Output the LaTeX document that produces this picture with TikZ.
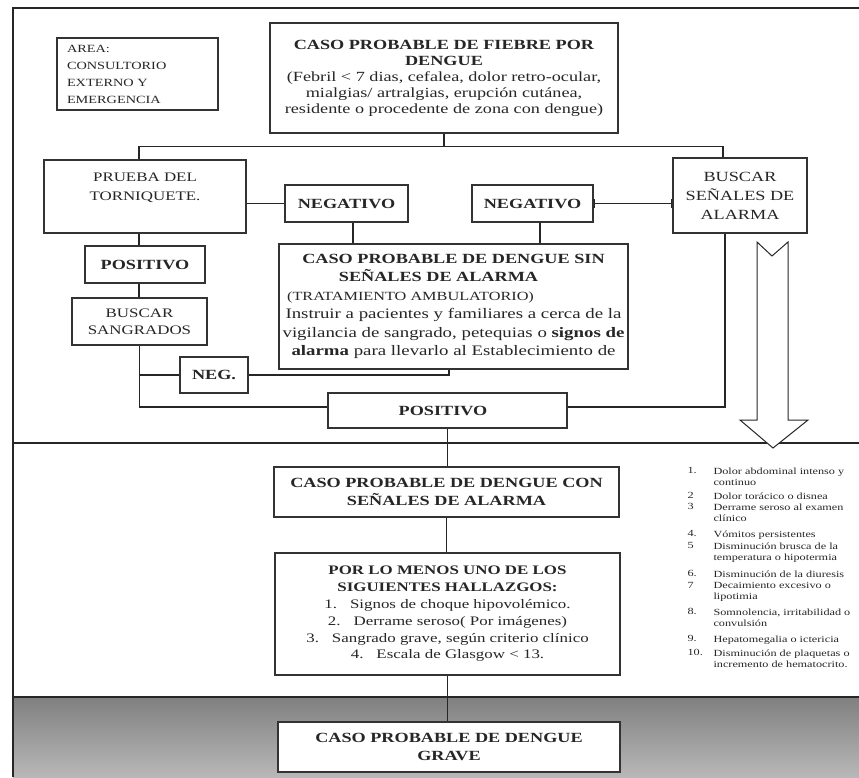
\documentclass[tikz,border=0pt]{standalone}
\usepackage{fontspec}
\setmainfont{Liberation Serif}[FakeStretch=1.3]
\tikzset{
  caja/.style={draw=black!80,fill=white,align=center,inner sep=2pt,font=\fontsize{14}{16}\selectfont},
  lista/.style={anchor=north west,align=left,inner sep=0pt,font=\fontsize{9.4}{11}\selectfont},
}
\begin{document}
\begin{tikzpicture}[x=1pt,y=-1pt,line width=1.1pt,color=black!85]
      \useasboundingbox (0,0) rectangle (859,777);
      \shade[top color=black!50,bottom color=black!28] (13,697) rectangle (859,777);
      \draw (13,697) -- (859,697);
      \draw (13,443) -- (859,443);
      \draw (13,777) |- (859,8);

      \node[caja,text width=141pt,align=left,inner xsep=10pt,minimum height=72pt,font=\fontsize{11}{17}\selectfont] (area) at (137.5,74) {AREA:\\CONSULTORIO\\EXTERNO Y\\EMERGENCIA};
      \node[caja,minimum width=348pt,minimum height=110pt] (fiebre) at (444,78) {\textbf{CASO PROBABLE DE FIEBRE POR}\\\textbf{DENGUE}\\(Febril < 7 dias, cefalea, dolor retro-ocular,\\mialgias/ artralgias, erupción cutánea,\\residente o procedente de zona con dengue)};
      \node[caja,minimum width=202pt,minimum height=73pt,font=\fontsize{13}{19}\selectfont] (prueba) at (145,196.5) {PRUEBA DEL\\TORNIQUETE.\\\mbox{}};
      \node[caja,minimum width=123pt,minimum height=37pt,font=\fontsize{14}{16}\bfseries] (negA) at (346.5,203.5) {NEGATIVO};
      \node[caja,minimum width=121pt,minimum height=37pt,font=\fontsize{14}{16}\bfseries] (negB) at (532.5,203.5) {NEGATIVO};
      \node[caja,minimum width=134pt,minimum height=75pt,font=\fontsize{14}{19}\selectfont] (senales) at (740,195.5) {BUSCAR\\SEÑALES DE\\ALARMA};
      \node[caja,minimum width=349pt,minimum height=125pt,font=\fontsize{14.5}{18.5}\selectfont] (sin) at (453.5,306.5) {{\fontsize{14}{18.5}\bfseries CASO PROBABLE DE DENGUE SIN}\\{\fontsize{14}{18.5}\bfseries SEÑALES DE ALARMA}\rule{30pt}{0pt}\\{\fontsize{12.5}{18.5}\selectfont(TRATAMIENTO AMBULATORIO)}\rule{86pt}{0pt}\\Instruir a pacientes y familiares a cerca de la\\vigilancia de sangrado, petequias o \textbf{signos de}\\\textbf{alarma} para llevarlo al Establecimiento de};
      \node[caja,minimum width=120pt,minimum height=37pt,font=\fontsize{14}{16}\bfseries] (posL) at (145,264.5) {POSITIVO};
      \node[caja,minimum width=135pt,minimum height=47pt,font=\fontsize{13}{17}\selectfont] (sangrados) at (139.5,321.5) {BUSCAR\\SANGRADOS};
      \node[caja,minimum width=68pt,minimum height=36pt,font=\fontsize{14}{16}\bfseries] (negdot) at (214,375) {NEG.};
      \node[caja,minimum width=239pt,minimum height=35pt,font=\fontsize{14}{16}\bfseries] (posC) at (447.5,410.5) {POSITIVO\rule{9pt}{0pt}};
      \node[caja,minimum width=345pt,minimum height=50pt,font=\fontsize{14}{18}\bfseries] (con) at (446.5,492) {CASO PROBABLE DE DENGUE CON\\SEÑALES DE ALARMA};
      \node[caja,minimum width=345pt,minimum height=122pt,font=\fontsize{13}{16.8}\selectfont] (menos) at (447.5,614) {\textbf{POR LO MENOS UNO DE LOS}\\\textbf{SIGUIENTES HALLAZGOS:}\\1.\quad Signos de choque hipovolémico.\\2.\quad Derrame seroso( Por imágenes)\\3.\quad Sangrado grave, según criterio clínico\\4.\quad Escala de Glasgow < 13.};
      \node[caja,minimum width=342pt,minimum height=50pt,font=\fontsize{14}{18}\bfseries] (grave) at (449,747) {CASO PROBABLE DE DENGUE\\GRAVE};

      \draw (fiebre.south) -- ++(0,13) coordinate (bus);
      \draw ([xshift=-6]prueba.north) |- (bus) -| ([xshift=-17]senales.north);
      \draw (prueba.east |- negA.west) -- (negA.west);
      \draw ([xshift=6.5]negA.south) -- ([xshift=6.5]negA.south |- sin.north);
      \draw ([xshift=7.5]negB.south) -- ([xshift=7.5]negB.south |- sin.north);
      \draw[|-|] (negB.east) -- (negB.east -| senales.west);
      \draw ([xshift=-6]prueba.south) -- ([xshift=-6]prueba.south |- posL.north);
      \draw ([xshift=-6]posL.south) -- ([xshift=-6]posL.south |- sangrados.north);
      \draw (sangrados.south) |- ([yshift=3.5]posC.west);
      \draw (sangrados.south |- negdot.west) -- (negdot.west);
      \draw (negdot.east) -| ([xshift=-4.5]sin.south);
      \draw ([xshift=-15]senales.south) |- ([yshift=3.5]posC.east);
      \draw (posC.south) -- (posC.south |- con.north);
      \draw (con.south) -- (con.south |- menos.north);
      \draw (menos.south) -- (menos.south |- grave.north);

      \draw[fill=white,line width=1pt] (757,242) -- (772,256) -- (788,242) -- (788,420) -- (808,420) -- (773,448) -- (740,420) -- (757,420) -- cycle;

      \foreach \yy/\n/\t [count=\i] in {
        467/1./{Dolor abdominal intenso y\\continuo},
        492/2/{Dolor torácico o disnea},
        503/3/{Derrame seroso al examen\\clínico},
        530/4./{Vómitos persistentes},
        542/5/{Disminución brusca de la\\temperatura o hipotermia},
        570/6./{Disminución de la diuresis},
        582/7/{Decaimiento excesivo o\\lipotimia},
        608/8./{Somnolencia, irritabilidad o\\convulsión},
        635/9./{Hepatomegalia o ictericia},
        649/10./{Disminución de plaquetas o\\incremento de hematocrito.}}
      {
        \node[lista] (num\i) at (687,\yy) {\n};
        \node[lista] (item\i) at (713,\yy) {\t};
      }
    \end{tikzpicture}
\end{document}
